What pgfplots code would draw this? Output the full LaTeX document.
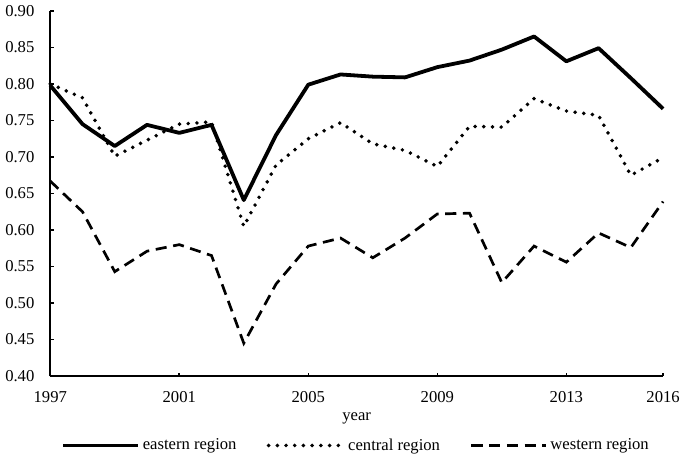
\documentclass[border=0pt]{standalone}
\usepackage{fontspec}
\setmainfont{Liberation Serif}
\usepackage{pgfplots}
\usepackage{pgfplotstable}
\pgfplotsset{compat=1.18}
\pgfplotstableread{
year east central west
1997 0.798 0.800 0.667
1998 0.745 0.781 0.625
1999 0.715 0.701 0.543
2000 0.744 0.723 0.571
2001 0.733 0.745 0.580
2002 0.744 0.748 0.565
2003 0.641 0.605 0.445
2004 0.730 0.689 0.526
2005 0.799 0.725 0.578
2006 0.813 0.747 0.589
2007 0.810 0.718 0.562
2008 0.809 0.709 0.589
2009 0.823 0.687 0.622
2010 0.832 0.742 0.623
2011 0.847 0.741 0.528
2012 0.865 0.780 0.578
2013 0.831 0.763 0.556
2014 0.849 0.757 0.596
2015 0.808 0.675 0.576
2016 0.766 0.699 0.639
}\datatable
\begin{document}
\begin{tikzpicture}
\begin{axis}[
  scale only axis,
  width=387pt, height=230.6pt,
  xmin=1997, xmax=2016, ymin=0.40, ymax=0.90,
  axis x line*=bottom, axis y line*=left,
  axis line style={line width=1.2pt},
  xtick={1997,2001,2005,2009,2013,2016},
  ytick={0.40,0.45,0.50,0.55,0.60,0.65,0.70,0.75,0.80,0.85,0.90},
  tick align=inside, major tick length=2.2pt,
  tick style={line width=1pt, black},
  /pgf/number format/assume math mode=true,
  xticklabel style={/pgf/number format/1000 sep={}, yshift=-6pt},
  yticklabel style={/pgf/number format/fixed, /pgf/number format/fixed zerofill, /pgf/number format/precision=2, xshift=-6.5pt},
  ticklabel style={font=\fontsize{10.5}{12}\selectfont},
  xlabel={year},
  xlabel style={at={(axis description cs:0.5,-0.116)}, anchor=center, font=\fontsize{10.5}{12}\selectfont},
  legend columns=3,
  legend style={at={(axis description cs:0.5,-0.19)}, anchor=center, draw=none, fill=none,
    font=\fontsize{10.5}{12}\selectfont,
    /tikz/every even column/.append style={column sep=17pt}},
  legend image code/.code={\draw[#1] (0pt,0pt) -- (47pt,0pt);},
  clip=false,
]
\addplot[black, line width=2.4pt, line join=round] table[x=year, y=east] {\datatable};
\addlegendentry{eastern region}
\addplot[black, line width=2.5pt, line cap=round, dash pattern=on 0pt off 5.5pt] table[x=year, y=central] {\datatable};
\addlegendentry{central region}
\addplot[black, line width=1.7pt, dash pattern=on 7pt off 4.2pt] table[x=year, y=west] {\datatable};
\addlegendentry{western region}
\end{axis}
\end{tikzpicture}
\end{document}
